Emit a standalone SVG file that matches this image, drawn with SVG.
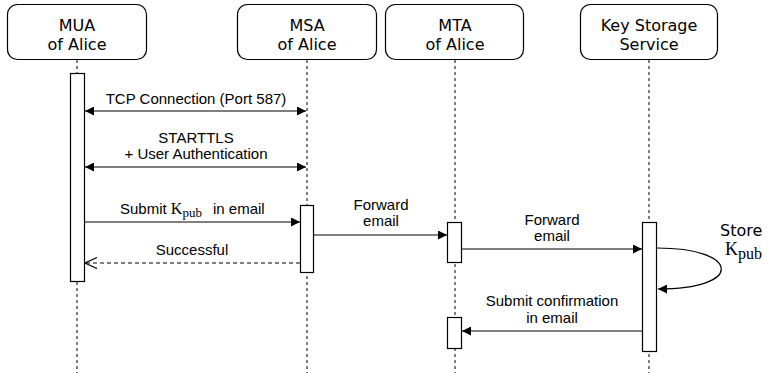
<svg xmlns="http://www.w3.org/2000/svg" width="769" height="373" viewBox="0 0 769 373">
<style>
.box{fill:#fff;stroke:#000;stroke-width:1.2}
.bar{fill:#fff;stroke:#000;stroke-width:1.2}
.life{stroke:#000;stroke-width:1;stroke-dasharray:3 3;fill:none}
.hd{font-family:"DejaVu Sans",sans-serif;font-size:16px;text-anchor:middle;fill:#000}
.lb{font-family:"Liberation Sans",Arial,sans-serif;font-size:15px;text-anchor:middle;fill:#000}
.ln{stroke:#000;stroke-width:1.2;fill:none}
.tm{font-family:"Liberation Serif","Times New Roman",serif}
</style>
<defs>
<marker id="arr" viewBox="0 0 10 10" refX="10" refY="5" markerWidth="10" markerHeight="9" markerUnits="userSpaceOnUse" orient="auto-start-reverse">
<path d="M0,0 L10,5 L0,10 z" fill="#000"/>
</marker>
<marker id="open" viewBox="0 0 14 12" refX="13" refY="6" markerWidth="14" markerHeight="12" markerUnits="userSpaceOnUse" orient="auto">
<path d="M1,0.5 L13,6 L1,11.5" fill="none" stroke="#000" stroke-width="1.2"/>
</marker>
</defs>

<g id="lifelines">
<line class="life" x1="77" y1="60" x2="77" y2="373"/>
<line class="life" x1="307" y1="60" x2="307" y2="373"/>
<line class="life" x1="455" y1="60" x2="455" y2="373"/>
<line class="life" x1="649" y1="60" x2="649" y2="373"/>
</g>

<g id="mua">
<rect class="box" x="7.5" y="4.5" width="139" height="55" rx="10"/>
<text class="hd" x="77" y="31">MUA</text>
<text class="hd" x="77" y="50">of Alice</text>
<rect class="bar" x="70.5" y="73.5" width="14" height="208"/>
</g>
<g id="msa">
<rect class="box" x="237.5" y="4.5" width="139" height="55" rx="10"/>
<text class="hd" x="307" y="31">MSA</text>
<text class="hd" x="307" y="50">of Alice</text>
<rect class="bar" x="300.5" y="205.5" width="13" height="67"/>
</g>
<g id="mta">
<rect class="box" x="385.5" y="4.5" width="138" height="55" rx="10"/>
<text class="hd" x="455" y="31">MTA</text>
<text class="hd" x="455" y="50">of Alice</text>
<rect class="bar" x="447.5" y="222.5" width="14" height="40"/>
<rect class="bar" x="447.5" y="317.5" width="14" height="31"/>
</g>
<g id="kss">
<rect class="box" x="580.5" y="4.5" width="137" height="55" rx="10"/>
<text class="hd" x="649" y="31">Key Storage</text>
<text class="hd" x="649" y="50">Service</text>
<rect class="bar" x="642.5" y="222.5" width="14" height="129"/>
</g>

<g id="connectors">
<line class="ln" x1="85" y1="111" x2="306" y2="111" marker-start="url(#arr)" marker-end="url(#arr)"/>
<text class="lb" x="196" y="104">TCP Connection (Port 587)</text>

<line class="ln" x1="85" y1="167" x2="306" y2="167" marker-start="url(#arr)" marker-end="url(#arr)"/>
<text class="lb" x="196" y="143">STARTTLS</text>
<text class="lb" x="196" y="159">+ User Authentication</text>

<line class="ln" x1="85" y1="222" x2="300" y2="222" marker-end="url(#arr)"/>
<text class="lb" x="120" y="214" style="text-anchor:start">Submit <tspan class="tm" font-size="16">K</tspan><tspan class="tm" font-size="13" dy="3">pub</tspan><tspan dy="-3" x="213">in email</tspan></text>

<line class="ln" x1="300" y1="263" x2="85" y2="263" stroke-dasharray="4 3" marker-end="url(#open)"/>
<text class="lb" x="192" y="255">Successful</text>

<line class="ln" x1="314" y1="235" x2="447" y2="235" marker-end="url(#arr)"/>
<text class="lb" x="381" y="210">Forward</text>
<text class="lb" x="381" y="226">email</text>

<line class="ln" x1="462" y1="249" x2="642" y2="249" marker-end="url(#arr)"/>
<text class="lb" x="552" y="225">Forward</text>
<text class="lb" x="552" y="241">email</text>

<path class="ln" d="M657,248 C740,248 745,289 658,289" marker-end="url(#arr)"/>
<text x="720" y="236" style="font-family:'DejaVu Sans',sans-serif;font-size:16px">Store</text>
<text x="725" y="255" class="tm" font-size="18">K<tspan font-size="16" dy="4">pub</tspan></text>

<line class="ln" x1="642" y1="331" x2="462" y2="331" marker-end="url(#arr)"/>
<text class="lb" x="552" y="306">Submit confirmation</text>
<text class="lb" x="552" y="323">in email</text>
</g>
</svg>
